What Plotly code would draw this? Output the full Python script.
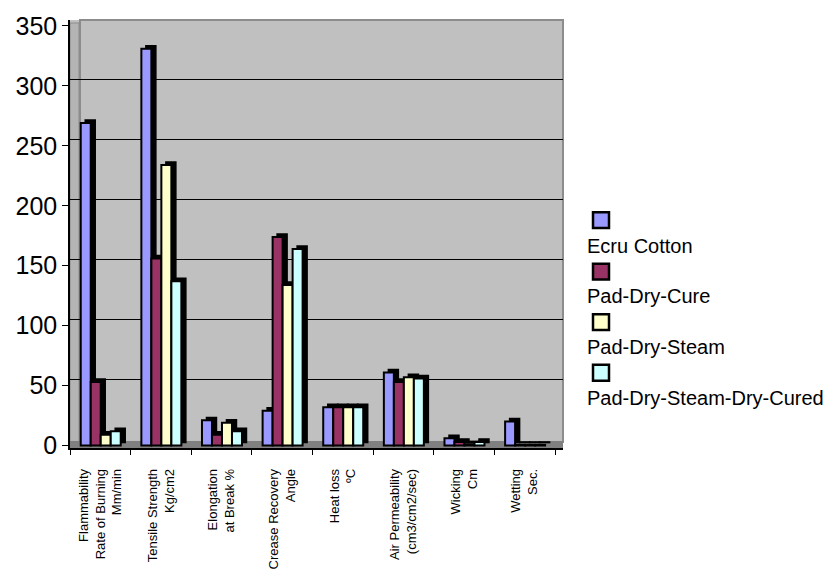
import plotly.graph_objects as go

categories = [
    "Flammability<br>Rate of Burning<br>Mm/min",
    "Tensile Strength<br>Kg/cm2",
    "Elongation<br>at Break %",
    "Crease Recovery<br>Angle",
    "Heat loss<br>ºC",
    "Air Permeability<br>(cm3/cm2/sec)",
    "Wicking<br>Cm",
    "Wetting<br>Sec.",
]
series_names = ["Ecru Cotton", "Pad-Dry-Cure", "Pad-Dry-Steam", "Pad-Dry-Steam-Dry-Cured"]
ecru_cotton = [269, 331, 21, 29, 32, 61, 6, 20]
pad_dry_cure = [53, 156, 9, 174, 32, 53, 3, 0.5]
pad_dry_steam = [9, 234, 19, 134, 32, 57, 1, 0.5]
pad_dry_steam_dry_cured = [12, 137, 12, 164, 32, 56, 3, 0.5]
y_ticks = [0, 50, 100, 150, 200, 250, 300, 350]

series_values = [ecru_cotton, pad_dry_cure, pad_dry_steam, pad_dry_steam_dry_cured]
colors = ["#9999FF", "#993366", "#FFFFCC", "#CCFFFF"]

W, H = 838, 581
L, R, T, B = 70, 275, 16, 133
plot_w = W - L - R
plot_h = H - T - B


def px_x(px):
    return (px - L) / plot_w


def px_y(py):
    return (H - B - py) / plot_h


cat_px = 485 / len(categories)
x_range = [-0.5, len(categories) - 0.5 + 8 / cat_px]
y_scale = 423.5 / 350
y_range = [-2.5 / y_scale, 350 + 6 / y_scale]
grid_shift = 5.2

bar_w = 10 / cat_px
start = -0.323
depth_x = 4.5 / cat_px
depth_y = 3 / y_scale

fig = go.Figure()

# 3D depth (side/top) of bars
for i, (name, vals) in enumerate(zip(series_names, series_values)):
    fig.add_trace(go.Bar(
        x=categories, y=vals, base=depth_y,
        offset=start + i * bar_w + depth_x, width=bar_w,
        marker=dict(color="#000000", line=dict(color="#000000", width=1.5)),
        showlegend=False, hoverinfo="skip",
    ))
# front faces
for i, (name, vals) in enumerate(zip(series_names, series_values)):
    fig.add_trace(go.Bar(
        x=categories, y=vals, name=name,
        offset=start + i * bar_w, width=bar_w,
        marker=dict(color=colors[i], line=dict(color="#000000", width=2)),
        showlegend=False, hoverinfo="skip",
    ))

# invisible trace to carry the back-wall gridline axis
fig.add_trace(go.Scatter(x=[categories[0]], y=[0], yaxis="y2", mode="markers",
                         marker=dict(opacity=0), showlegend=False, hoverinfo="skip"))

font_family = "Liberation Sans, Arial, sans-serif"

shapes = [
    # back wall border
    dict(type="rect", xref="paper", yref="paper", x0=px_x(80), x1=1, y0=px_y(442), y1=1,
         line=dict(color="#8C8C8C", width=2), fillcolor="rgba(0,0,0,0)", layer="below"),
    # left wall
    dict(type="rect", xref="paper", yref="paper", x0=0, x1=px_x(79), y0=0, y1=px_y(19),
         line=dict(color="#8C8C8C", width=1), fillcolor="#B4B4B4", layer="between"),
    # floor
    dict(type="rect", xref="paper", yref="paper", x0=0, x1=1, y0=0, y1=px_y(441),
         line=dict(width=0), fillcolor="#808080", layer="between"),
]

annotations = []
sq_tops = [210, 262, 313, 364]
txt_mid = [244, 295, 346, 398]
for i, name in enumerate(series_names):
    shapes.append(dict(type="rect", xref="paper", yref="paper",
                       x0=px_x(593), x1=px_x(609), y0=px_y(sq_tops[i] + 16), y1=px_y(sq_tops[i]),
                       fillcolor=colors[i], line=dict(color="#000000", width=2.5)))
    annotations.append(dict(text=name, xref="paper", yref="paper", x=px_x(585), y=px_y(txt_mid[i]),
                            xanchor="left", yanchor="middle", showarrow=False,
                            font=dict(family=font_family, size=20, color="#000000")))

fig.update_layout(
    width=W, height=H,
    margin=dict(l=L, r=R, t=T, b=B),
    paper_bgcolor="#FFFFFF",
    plot_bgcolor="#C0C0C0",
    barmode="overlay",
    showlegend=False,
    font=dict(family=font_family, color="#000000"),
    xaxis=dict(
        range=x_range, type="category", showgrid=False,
        showline=True, linecolor="#000000", linewidth=1.5,
        ticks="outside", ticklen=5, tickcolor="#000000", tickson="boundaries",
        tickangle=-90, ticklabelstandoff=14,
        tickfont=dict(family=font_family, size=13, color="#000000"),
        zeroline=False,
    ),
    yaxis=dict(
        range=y_range, tickvals=y_ticks, showgrid=False, zeroline=False,
        showline=True, linecolor="#000000", linewidth=1.5,
        ticks="outside", ticklen=6, tickcolor="#000000",
        tickfont=dict(family=font_family, size=25, color="#000000"),
    ),
    yaxis2=dict(
        range=[y_range[0] - grid_shift, y_range[1] - grid_shift], overlaying="y", side="right",
        tickvals=y_ticks[1:], showgrid=True, gridcolor="#000000", gridwidth=1,
        showticklabels=False, showline=False, zeroline=False, ticks="",
    ),
    shapes=shapes,
    annotations=annotations,
)

fig.write_html("out.html")
